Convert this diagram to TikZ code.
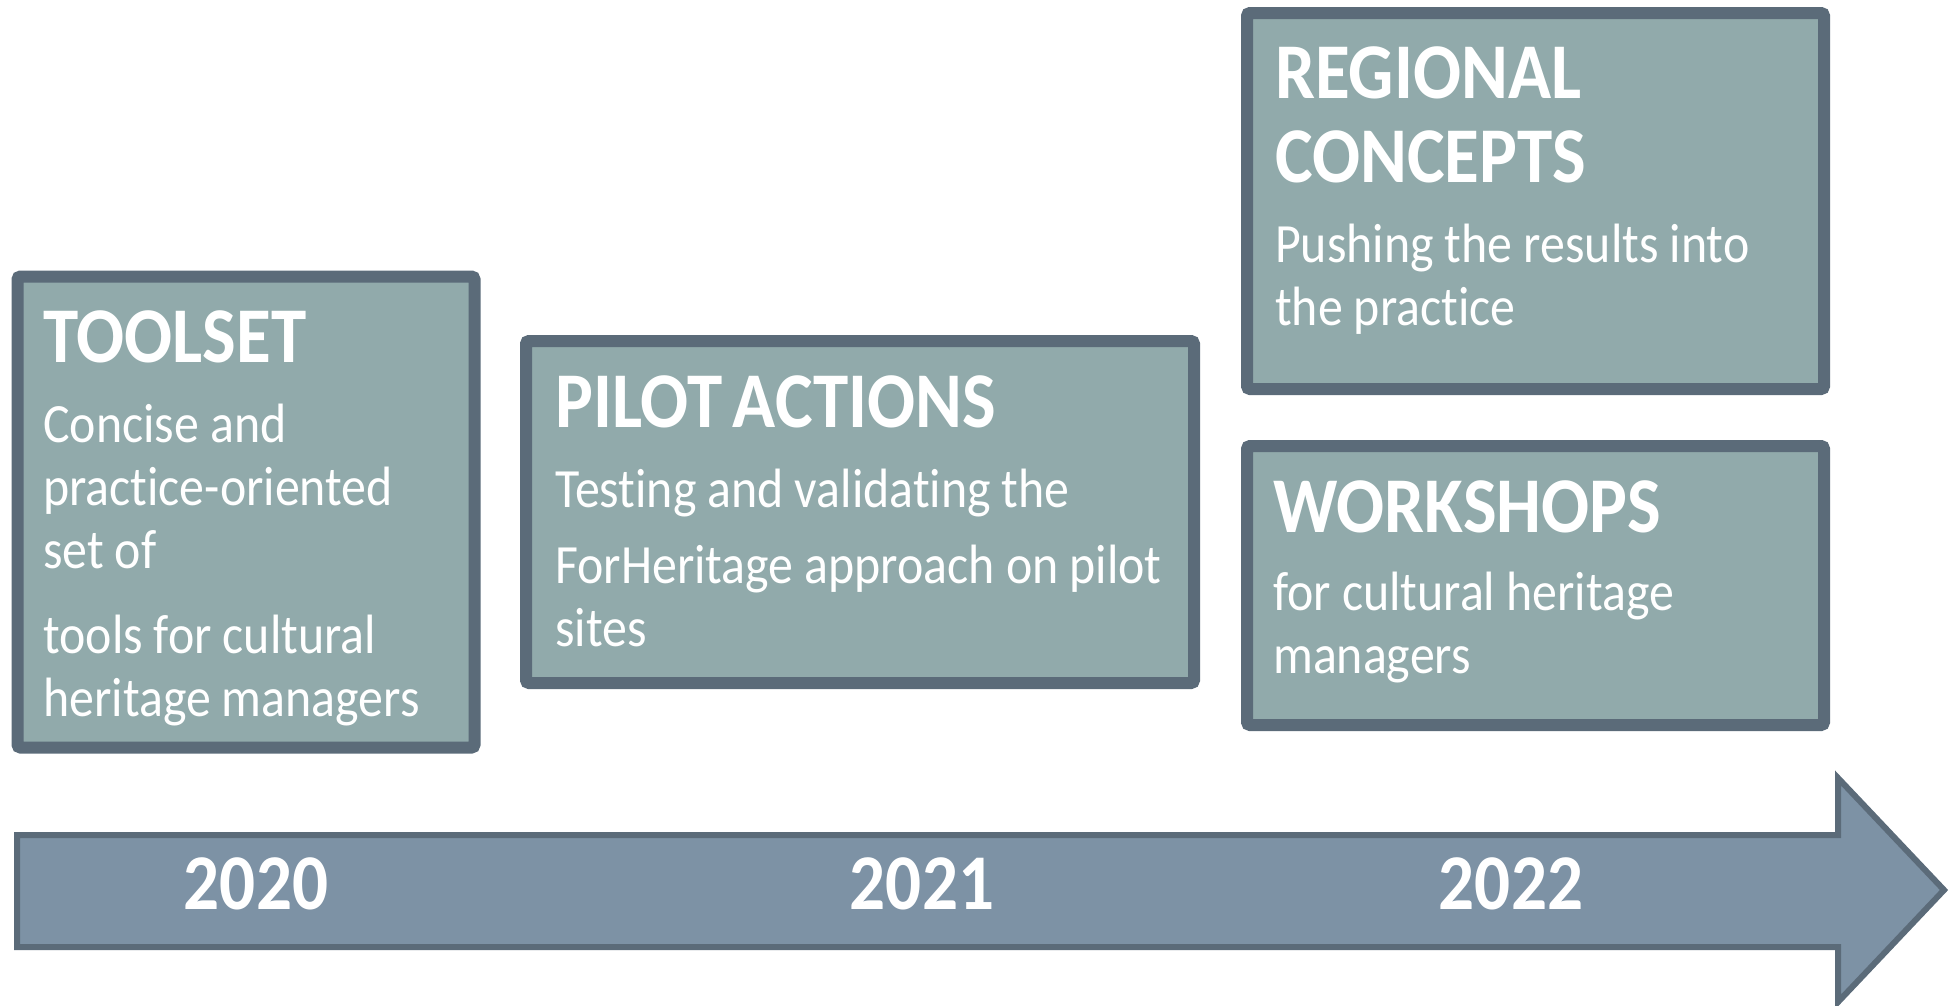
\documentclass[tikz,border=0pt]{standalone}
\usepackage{fontspec}
\setmainfont{Carlito}[FakeStretch=0.9, Ligatures=NoCommon]
\usepackage{tikz}
\usetikzlibrary{positioning}

\definecolor{boxfill}{HTML}{91AAAB}
\definecolor{boxline}{HTML}{5B6B79}
\definecolor{arrowfill}{HTML}{7D92A5}

\newcommand{\phasetitlefont}{\fontsize{79}{84}\selectfont\bfseries\setlength{\spaceskip}{.13em}}
\newcommand{\phasebodyfont}{\fontsize{55.4}{63}\selectfont\setlength{\spaceskip}{.2em}}

\begin{document}
\begin{tikzpicture}[x=1pt, y=-1pt]
  \tikzstyle{phase} = [rectangle, draw=boxline, fill=boxfill, line width=12pt, rounded corners=3pt]
  \tikzstyle{title} = [anchor=base west, inner sep=0pt, text=white, font=\phasetitlefont, text width=800pt, align=flush left]
  \tikzstyle{body} = [anchor=base west, inner sep=0pt, text=white, font=\phasebodyfont, text width=900pt, align=flush left]
  \tikzstyle{year} = [anchor=base, inner sep=0pt, text=white, font=\fontsize{79}{84}\selectfont\bfseries]
  \tikzstyle{timeline} = [draw=boxline, fill=arrowfill, line width=6pt]

  \useasboundingbox (0,0) rectangle (1953,1005);

  % time arrow
  \draw[timeline] (17,835) -- (1838,835) -- (1838,778) -- (1944,890) -- (1838,1002) -- (1838,947) -- (17,947) -- cycle;
  \node[year] (y2020) at (256,909) {2020};
  \node[year] (y2021) at (922,909) {2021};
  \node[year] (y2022) at (1511,909) {2022};

  % phases
  \node[phase, minimum width=457, minimum height=471] (toolset) at (246,512) {};
  \node[phase, minimum width=668, minimum height=342] (pilot) at (860,512) {};
  \node[phase, minimum width=577, minimum height=376] (regional) at (1535.5,201) {};
  \node[phase, minimum width=577, minimum height=279] (workshops) at (1535.5,585.5) {};

  \node[title] (toolset_t) at (43,362) {TOOLSET};
  \node[body] (toolset_b) at (43,442) {Concise and\\practice-oriented\\set of\\[22pt]tools for cultural\\heritage managers};

  \node[title] (pilot_t) at (555,427) {PILOT ACTIONS};
  \node[body] (pilot_b) at (555,507) {Testing and validating the\\[13pt]ForHeritage approach on pilot\\sites};

  \node[title] (regional_t) at (1275,98) {REGIONAL\\CONCEPTS};
  \node[body] (regional_b) at (1275,262) {Pushing the results into\\the practice};

  \node[title] (workshops_t) at (1273,532) {WORKSHOPS};
  \node[body] (workshops_b) at (1273,610) {for cultural heritage\\managers};
\end{tikzpicture}
\end{document}
